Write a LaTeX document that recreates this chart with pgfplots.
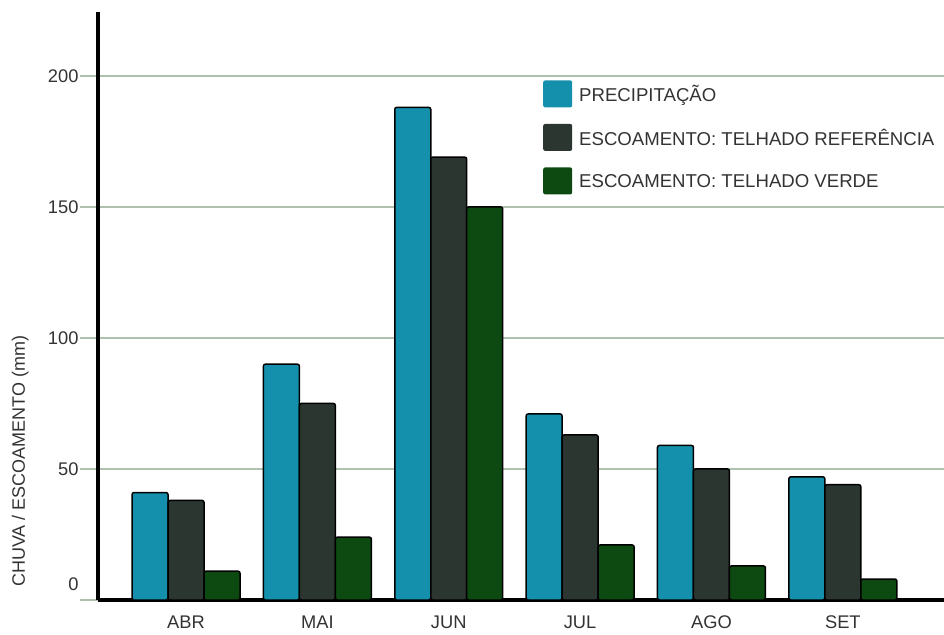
\documentclass[border=0pt]{standalone}
\usepackage{fontspec}
\setmainfont{Liberation Sans}
\usepackage{pgfplots}
\pgfplotsset{compat=1.18}
\definecolor{cblue}{HTML}{1590AC}
\definecolor{cdark}{HTML}{2C3631}
\definecolor{cgreen}{HTML}{0C4A12}
\definecolor{cgrid}{HTML}{AFC0AF}
\definecolor{ctext}{HTML}{333333}
\begin{document}
\begin{tikzpicture}
\useasboundingbox (-98pt,-34pt) rectangle (846pt,600pt);
\begin{axis}[
  scale only axis, width=846pt, height=588pt,
  xmin=-0.67, xmax=5.77, ymin=0, ymax=224.4,
  axis x line=bottom, axis y line=left,
  axis line style={line width=3.5pt,-},
  ybar=0pt, bar width=0.274,
  xtick={0,...,5}, xticklabels={ABR,MAI,JUN,JUL,AGO,SET},
  ytick={0,50,100,150,200},
  yticklabels={\raisebox{10pt}[0pt][0pt]{0},50,100,150,200},
  ymajorgrids, grid style={cgrid, line width=1.2pt},
  major x tick style={draw=none},
  major y tick style={cgrid, line width=1.2pt},
  major tick length=18pt, tick align=outside,
  /pgf/number format/assume math mode=true,
  ticklabel style={font=\fontsize{18.3}{21}\selectfont, text=ctext},
  yticklabel style={xshift=2pt},
  xticklabel style={yshift=6pt},
  ylabel={CHUVA / ESCOAMENTO (mm)},
  ylabel style={at={(axis description cs:-0.092,0.236)}, anchor=center, font=\fontsize{18}{21}\selectfont, text=ctext},
  legend style={at={(axis description cs:0.526,0.884)}, anchor=north west, draw=none, fill=none,
    font=\fontsize{18.6}{21}\selectfont, text=ctext, row sep=16.5pt, inner sep=0pt,
    /tikz/every odd column/.style={column sep=5pt}},
  legend cell align=left,
  legend image code/.code={\fill[#1, draw=none] (0pt,-13pt) rectangle (29pt,14pt);},
  every axis plot/.append style={draw=black, line width=1.5pt, rounded corners=2pt},
]
\addplot[fill=cblue] coordinates {(0,41) (1,90) (2,188) (3,71) (4,59) (5,47)};
\addplot[fill=cdark] coordinates {(0,38) (1,75) (2,169) (3,63) (4,50) (5,44)};
\addplot[fill=cgreen] coordinates {(0,11) (1,24) (2,150) (3,21) (4,13) (5,8)};
\legend{PRECIPITAÇÃO, ESCOAMENTO: TELHADO REFERÊNCIA, ESCOAMENTO: TELHADO VERDE}
\end{axis}
\end{tikzpicture}
\end{document}
